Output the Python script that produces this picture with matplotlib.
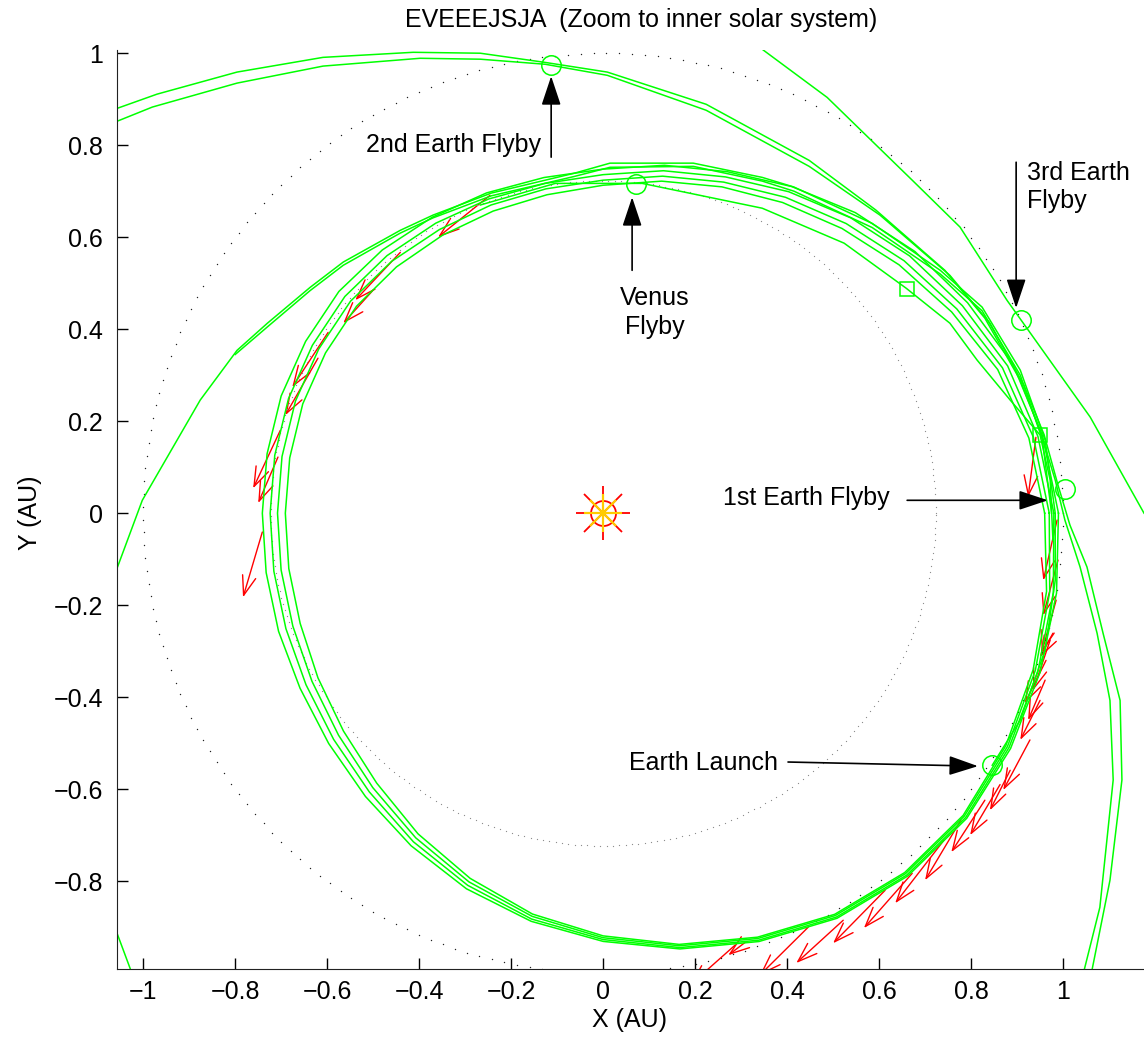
import numpy as np
import matplotlib.pyplot as plt
from matplotlib.patches import FancyArrowPatch
from matplotlib.ticker import FuncFormatter

# ---- planet orbits (AU) ----
EARTH_ORBIT_R = 1.0
VENUS_ORBIT_R = 0.723

# ---- multi-rev loops near Venus/Earth, radius (AU) at fixed polar angles ----
LOOP_ANG = [0, 10, 20, 30, 40, 50, 60, 70, 80, 90, 100, 110, 120, 130, 140, 150, 160, 170, 180,
            190, 200, 210, 220, 230, 240, 250, 260, 270, 280, 290, 300, 310, 320, 330, 340, 350, 360]
LOOP_A = [.990, .970, .948, .915, .885, .853, .820, .790, .768, .748, .741, .741, .743, .747, .750,
          .747, .745, .742, .741, .744, .751, .761, .779, .804, .835, .869, .901, .931, .962, .991,
          1.017, 1.030, 1.032, 1.023, 1.011, 1.001, .990]
LOOP_B = [.980, .960, .936, .902, .870, .838, .807, .778, .756, .736, .728, .727, .728, .731, .733,
          .730, .728, .725, .724, .727, .734, .746, .765, .791, .825, .861, .896, .927, .959, .988,
          1.014, 1.027, 1.029, 1.019, 1.006, .994, .980]
LOOP_C = [.970, .950, .924, .888, .854, .822, .793, .766, .744, .724, .716, .713, .712, .715, .717,
          .714, .712, .709, .708, .711, .718, .731, .751, .779, .815, .853, .890, .923, .955, .984,
          1.010, 1.023, 1.025, 1.015, 1.000, .986, .970]
LOOP_D = [.960, .940, .913, .875, .840, .808, .780, .755, .733, .713, .703, .699, .698, .699, .700,
          .697, .695, .692, .691, .694, .701, .716, .737, .766, .805, .845, .885, .919, .952, .981,
          1.007, 1.020, 1.022, 1.011, .995, .979, .960]

# ---- outer arcs through the 2nd Earth flyby ----
P1_X = [-1.057, -0.970, -0.796, -0.609, -0.413, -0.267, -0.126, 0.009, 0.224, 0.448, 0.593, 0.743,
        0.830, 0.907, 0.950, 0.983, 1.004, 1.037, 1.074, 1.102, 1.109, 1.080, 1.046]
P1_Y = [0.880, 0.911, 0.959, 0.991, 1.002, 1.000, 0.980, 0.959, 0.889, 0.767, 0.659, 0.528,
        0.424, 0.289, 0.180, 0.072, -0.015, -0.117, -0.261, -0.407, -0.580, -0.857, -0.993]
P2_X = [-1.057, -0.980, -0.796, -0.609, -0.398, -0.267, -0.126, 0.009, 0.224, 0.448, 0.602, 0.754,
        0.841, 0.915, 0.959, 0.989, 1.015, 1.052, 1.087, 1.124, 1.128, 1.102, 1.063]
P2_Y = [0.852, 0.883, 0.935, 0.972, 0.989, 0.987, 0.976, 0.952, 0.876, 0.754, 0.648, 0.517,
        0.413, 0.278, 0.170, 0.061, -0.026, -0.117, -0.261, -0.407, -0.580, -0.798, -0.993]

# ---- arc past the 3rd Earth flyby ----
Q_X = [0.348, 0.487, 0.672, 0.776, 0.878, 1.059, 1.176]
Q_Y = [1.007, 0.904, 0.724, 0.622, 0.463, 0.209, 0.000]

# ---- wide arc leaving to the left ----
R_X = [-1.057, -1.002, -0.876, -0.796, -0.730, -0.637, -0.565, -0.441, -0.370, -0.243, -0.063,
       0.015, 0.196, 0.346, 0.415, 0.585, 0.733, 0.824, 0.907, 0.961, 0.983, 0.983, 0.961, 0.907, 0.846]
R_Y = [-0.120, 0.028, 0.246, 0.354, 0.413, 0.491, 0.546, 0.615, 0.648, 0.696, 0.739,
       0.761, 0.761, 0.730, 0.709, 0.630, 0.528, 0.448, 0.311, 0.159, 0.000, -0.146, -0.298, -0.450, -0.548]
R2_X = [-0.800, -0.730, -0.637, -0.565, -0.441, -0.370, -0.243, -0.063, 0.015, 0.196, 0.346,
        0.415, 0.585, 0.733, 0.824, 0.907, 0.955, 0.975]
R2_Y = [0.345, 0.405, 0.484, 0.539, 0.609, 0.642, 0.690, 0.732, 0.752, 0.754, 0.722,
        0.700, 0.621, 0.520, 0.440, 0.300, 0.160, 0.000]
B_X = [-1.057, -1.028]
B_Y = [-0.913, -0.991]

# ---- arc through Venus flyby and the two DSMs ----
S_X = [-0.267, -0.104, 0.085, 0.346, 0.524, 0.659, 0.754, 0.813, 0.885, 0.950, 0.972, 0.978]
S_Y = [0.670, 0.717, 0.717, 0.663, 0.587, 0.489, 0.413, 0.333, 0.246, 0.170, 0.072, -0.059]

# ---- events ----
FLYBY_X = [-0.113, 0.072, 0.909, 1.004, 0.846]
FLYBY_Y = [0.974, 0.715, 0.420, 0.052, -0.548]
DSM_X = [0.661, 0.950]
DSM_Y = [0.487, 0.170]

# ---- thrust vectors: tail -> head (AU) ----
THR_X0 = [-0.246, -0.441, -0.500, -0.598, -0.620, -0.702, -0.707, -0.741,
          0.941, 0.987, 0.989, 0.985, 0.978, 0.972, 0.963, 0.961, 0.950, 0.928, 0.885, 0.863,
          0.830, 0.778, 0.741, 0.672, 0.613, 0.522, 0.446, 0.309, 0.287]
THR_Y0 = [0.691, 0.567, 0.485, 0.393, 0.337, 0.180, 0.122, -0.041,
          0.165, -0.015, -0.102, -0.189, -0.261, -0.276, -0.320, -0.363, -0.407, -0.493, -0.559, -0.590,
          -0.624, -0.667, -0.711, -0.783, -0.820, -0.885, -0.900, -0.933, -0.939]
THR_X1 = [-0.359, -0.539, -0.565, -0.676, -0.691, -0.761, -0.750, -0.783,
          0.924, 0.957, 0.957, 0.954, 0.950, 0.935, 0.917, 0.924, 0.907, 0.870, 0.841, 0.798,
          0.757, 0.700, 0.635, 0.567, 0.500, 0.420, 0.341, 0.272, 0.189]
THR_Y1 = [0.600, 0.463, 0.413, 0.274, 0.213, 0.054, 0.022, -0.183,
          0.035, -0.146, -0.222, -0.302, -0.313, -0.385, -0.413, -0.450, -0.493, -0.602, -0.646, -0.700,
          -0.737, -0.798, -0.848, -0.902, -0.935, -0.978, -1.004, -0.961, -1.026]

GREEN = '#00ff00'
plt.rcParams['font.family'] = ['Liberation Sans', 'DejaVu Sans']
FS = 18

fig = plt.figure(figsize=(11.44, 10.42), dpi=100)
ax = fig.add_axes([117 / 1144, 73 / 1042, 1 - 117 / 1144, (969 - 50) / 1042])
ax.set_xlim(-1.057, 1.176)
ax.set_ylim(-0.991, 1.007)

# orbits as dotted planet positions
th = np.radians(np.arange(0, 360, 1.6))
ax.plot(EARTH_ORBIT_R * np.cos(th), EARTH_ORBIT_R * np.sin(th), ls='none', marker='o', ms=1.0,
        mew=0, color='#222222')
th = np.radians(np.arange(0, 360, 1.1))
ax.plot(VENUS_ORBIT_R * np.cos(th), VENUS_ORBIT_R * np.sin(th), ls='none', marker='o', ms=0.9,
        mew=0, color='#8a8a8a')

# trajectory
ang = np.radians(LOOP_ANG)
for r in (LOOP_A, LOOP_B, LOOP_C, LOOP_D):
    r = np.array(r)
    ax.plot(r * np.cos(ang), r * np.sin(ang), color=GREEN, lw=1.1)
for xs, ys in ((P1_X, P1_Y), (P2_X, P2_Y), (Q_X, Q_Y), (R_X, R_Y), (R2_X, R2_Y),
               (B_X, B_Y), (S_X, S_Y)):
    ax.plot(xs, ys, color=GREEN, lw=1.1)

# thrust arrows
for x0, y0, x1, y1 in zip(THR_X0, THR_Y0, THR_X1, THR_Y1):
    ax.add_patch(FancyArrowPatch((x0, y0), (x1, y1), arrowstyle='->,head_length=1.0,head_width=0.35',
                                 mutation_scale=14, color='red', lw=1.0, shrinkA=0, shrinkB=0))

# flybys and DSMs
ax.plot(FLYBY_X, FLYBY_Y, ls='none', marker='o', ms=14, mfc='none', mec=GREEN, mew=1.1)
ax.plot(DSM_X, DSM_Y, ls='none', marker='s', ms=10, mfc='none', mec=GREEN, mew=1.1)

# sun
ax.plot(0, 0, marker='+', ms=39, color='red', mew=1.3)
ax.plot(0, 0, marker='x', ms=27, color='red', mew=1.3)
ax.plot(0, 0, marker='o', ms=18, mfc='none', mec='red', mew=1.3)
ax.plot(0, 0, marker='+', ms=27, color='#ffcc00', mew=1.6)
ax.plot(0, 0, marker='x', ms=19, color='#ffcc00', mew=1.6)

# labels with arrows
ap = dict(arrowstyle='-|>,head_length=0.9,head_width=0.3', color='black', lw=1.2,
          mutation_scale=20, shrinkA=0, shrinkB=0)
ax.annotate('', xy=(-0.113, 0.950), xytext=(-0.113, 0.774), arrowprops=ap)
ax.text(-0.135, 0.800, '2nd Earth Flyby', fontsize=FS, ha='right', va='center')
ax.annotate('', xy=(0.063, 0.687), xytext=(0.063, 0.528), arrowprops=ap)
ax.text(0.113, 0.437, 'Venus\nFlyby', fontsize=FS, ha='center', va='center', linespacing=1.25)
ax.annotate('', xy=(0.898, 0.446), xytext=(0.898, 0.763), arrowprops=ap)
ax.text(0.922, 0.709, '3rd Earth\nFlyby', fontsize=FS, ha='left', va='center', linespacing=1.25)
ax.annotate('', xy=(0.967, 0.028), xytext=(0.661, 0.028), arrowprops=ap)
ax.text(0.624, 0.033, '1st Earth Flyby', fontsize=FS, ha='right', va='center')
ax.annotate('', xy=(0.815, -0.550), xytext=(0.402, -0.541), arrowprops=ap)
ax.text(0.380, -0.543, 'Earth Launch', fontsize=FS, ha='right', va='center')

# axes styling
ax.set_xticks([-1, -0.8, -0.6, -0.4, -0.2, 0, 0.2, 0.4, 0.6, 0.8, 1])
ax.set_yticks([-0.8, -0.6, -0.4, -0.2, 0, 0.2, 0.4, 0.6, 0.8, 1])


def fmt(v, pos):
    v = round(v, 6)
    if v == 0:
        return '0'
    return f'{v:g}'.replace('-', '\u2212')


ax.xaxis.set_major_formatter(FuncFormatter(fmt))
ax.yaxis.set_major_formatter(FuncFormatter(fmt))
ax.tick_params(direction='in', length=8, width=1, labelsize=FS, top=False, right=False)
ax.tick_params(axis='x', pad=8)
ax.tick_params(axis='y', pad=10)
for s in ('top', 'right'):
    ax.spines[s].set_visible(False)
for s in ('left', 'bottom'):
    ax.spines[s].set_color('#222222')

fig.text(630 / 1144, 1 - 1020 / 1042, 'X (AU)', fontsize=FS, ha='center', va='center')
fig.text(30 / 1144, 1 - 513 / 1042, 'Y (AU)', fontsize=FS, ha='center', va='center', rotation=90)
fig.text(641 / 1144, 1 - 20 / 1042, 'EVEEEJSJA  (Zoom to inner solar system)', fontsize=FS,
         ha='center', va='center')

fig.savefig('out.png', dpi=100)
